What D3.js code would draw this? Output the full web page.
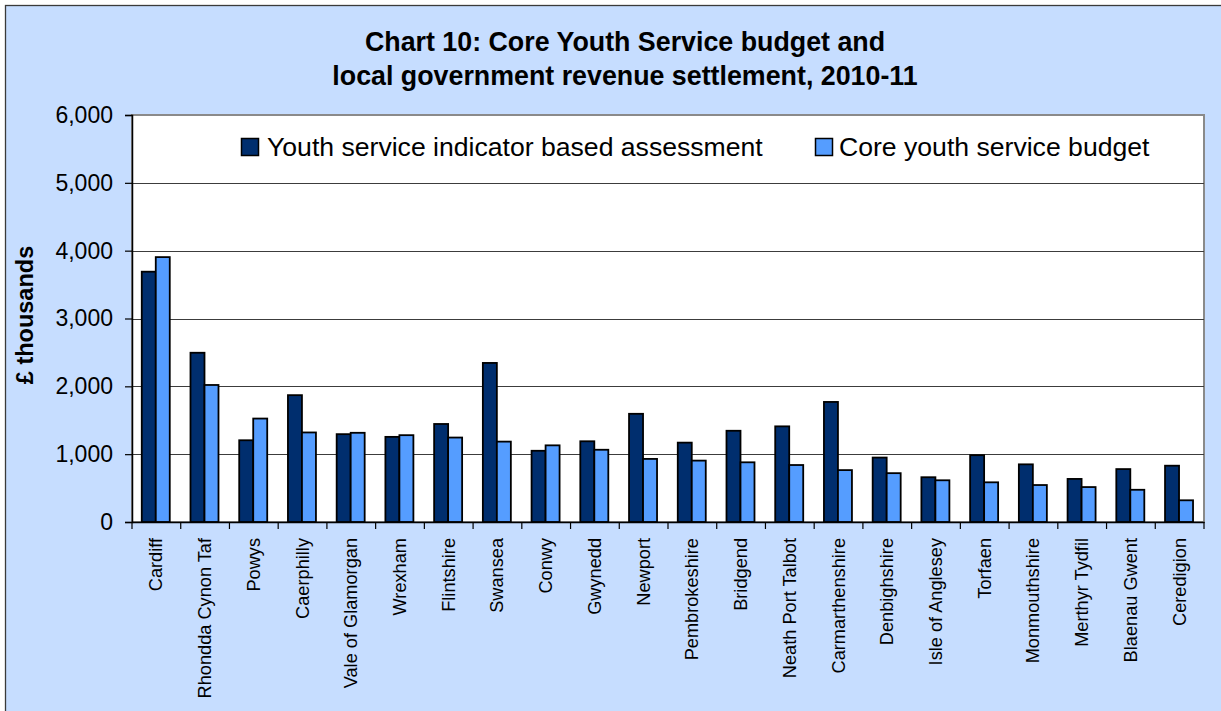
<!DOCTYPE html>
<html>
<head>
<meta charset="utf-8">
<script src="https://cdn.jsdelivr.net/npm/d3@7"></script>
<style>
  html, body { margin: 0; padding: 0; background: #ffffff; }
  svg { display: block; font-family: "Liberation Sans", Arial, sans-serif; }
</style>
</head>
<body>
<svg id="chart" width="1221" height="711"></svg>
<script>
// Local authorities, in chart order
const categories = [
  "Cardiff", "Rhondda Cynon Taf", "Powys", "Caerphilly", "Vale of Glamorgan",
  "Wrexham", "Flintshire", "Swansea", "Conwy", "Gwynedd", "Newport",
  "Pembrokeshire", "Bridgend", "Neath Port Talbot", "Carmarthenshire",
  "Denbighshire", "Isle of Anglesey", "Torfaen", "Monmouthshire",
  "Merthyr Tydfil", "Blaenau Gwent", "Ceredigion"
];

// £ thousands
const assessment = [3690, 2495, 1205, 1870, 1295, 1255, 1445, 2345, 1050, 1190, 1595,
                    1170, 1345, 1410, 1770, 950, 660, 985, 850, 635, 780, 830];
const budget = [3905, 2020, 1525, 1320, 1315, 1280, 1245, 1185, 1130, 1065, 930,
                905, 880, 840, 765, 720, 615, 585, 545, 515, 475, 320];

const seriesNames = ["Youth service indicator based assessment", "Core youth service budget"];
const yTicks = [0, 1000, 2000, 3000, 4000, 5000, 6000];
const titleLines = ["Chart 10: Core Youth Service budget and",
                    "local government revenue settlement, 2010-11"];
const yAxisTitle = "£ thousands";

const colors = ["#002E6E", "#559DFF"];
const bg = "#C6DDFF";

const svg = d3.select("#chart");

// chart background and frame
svg.append("rect").attr("x", 0).attr("y", 0).attr("width", 1221).attr("height", 711).attr("fill", "#ffffff");
svg.append("rect").attr("x", 5.5).attr("y", 5.5).attr("width", 1240).attr("height", 720)
  .attr("fill", bg).attr("stroke", "#3a3a3a").attr("stroke-width", 1.3);

const plot = { left: 132, right: 1204, top: 115, bottom: 522 };

const x0 = d3.scaleBand().domain(categories).range([plot.left, plot.right]).padding(0);
const barW = x0.bandwidth() * 0.2873;
const x1 = d3.scaleBand().domain([0, 1]).range([0, barW * 2]).padding(0);
const groupOffset = (x0.bandwidth() - barW * 2) / 2 - 0.6;

const y = d3.scaleLinear().domain([0, 6000]).range([plot.bottom, plot.top]);

// plot area
svg.append("rect").attr("x", plot.left).attr("y", plot.top)
  .attr("width", plot.right - plot.left).attr("height", plot.bottom - plot.top)
  .attr("fill", "#ffffff").attr("stroke", "#8a8a8a").attr("stroke-width", 2);

// gridlines
svg.append("g").selectAll("line").data(yTicks.filter(t => t > 0 && t < 6000)).join("line")
  .attr("x1", plot.left).attr("x2", plot.right)
  .attr("y1", d => Math.round(y(d)) + 0.5).attr("y2", d => Math.round(y(d)) + 0.5)
  .attr("stroke", "#3c3c3c").attr("stroke-width", 1.1);

// bars
const seriesData = [assessment, budget];
const groups = svg.append("g").selectAll("g").data(categories).join("g")
  .attr("transform", d => `translate(${x0(d) + groupOffset},0)`);
groups.selectAll("rect").data((d, i) => seriesData.map((s, k) => ({ k, v: s[i] }))).join("rect")
  .attr("x", d => x1(d.k))
  .attr("y", d => y(d.v))
  .attr("width", x1.bandwidth())
  .attr("height", d => y(0) - y(d.v))
  .attr("fill", d => colors[d.k])
  .attr("stroke", "#000000").attr("stroke-width", 1.8);

// y axis
const yAxis = d3.axisLeft(y).tickValues(yTicks).tickSize(7).tickPadding(12)
  .tickFormat(d3.format(","));
const gy = svg.append("g").attr("transform", `translate(${plot.left},0)`).call(yAxis);
gy.select(".domain").attr("stroke", "#000").attr("stroke-width", 1.5);
gy.selectAll(".tick line").attr("stroke", "#000").attr("stroke-width", 1.2);
gy.selectAll(".tick text").attr("font-size", 23).attr("fill", "#000")
  .attr("font-family", "Liberation Sans, Arial, sans-serif");

// x axis
const xAxis = d3.axisBottom(x0).tickSize(0).tickPadding(0);
const gx = svg.append("g").attr("transform", `translate(0,${plot.bottom})`).call(xAxis);
gx.select(".domain").attr("stroke", "#000").attr("stroke-width", 1.5);
gx.selectAll(".tick text")
  .attr("font-size", 18.2).attr("fill", "#000")
  .attr("font-family", "Liberation Sans, Arial, sans-serif")
  .attr("text-anchor", "end")
  .attr("dy", null)
  .attr("transform", "translate(6,16) rotate(-90)");
// category boundary ticks
svg.append("g").selectAll("line").data(d3.range(categories.length + 1)).join("line")
  .attr("x1", i => plot.left + i * x0.bandwidth()).attr("x2", i => plot.left + i * x0.bandwidth())
  .attr("y1", plot.bottom).attr("y2", plot.bottom + 7)
  .attr("stroke", "#000").attr("stroke-width", 1.2);

// title
svg.append("g").selectAll("text").data(titleLines).join("text")
  .attr("x", 625).attr("y", (d, i) => 51 + i * 34)
  .attr("text-anchor", "middle").attr("font-size", 26.8).attr("font-weight", "bold")
  .attr("fill", "#000").text(d => d);

// y axis title
svg.append("text")
  .attr("transform", "translate(33,315) rotate(-90)")
  .attr("text-anchor", "middle").attr("font-size", 23.5).attr("font-weight", "bold")
  .attr("fill", "#000").text(yAxisTitle);

// legend
const legendX = [241, 815];
const legend = svg.append("g").selectAll("g").data(seriesNames).join("g")
  .attr("transform", (d, i) => `translate(${legendX[i]},138)`);
legend.append("rect").attr("x", 0.5).attr("y", 0.5).attr("width", 17).attr("height", 17)
  .attr("fill", (d, i) => colors[i]).attr("stroke", "#000").attr("stroke-width", 1.5);
legend.append("text").attr("x", (d, i) => i === 0 ? 26 : 24).attr("y", 18).attr("font-size", 26.6)
  .attr("fill", "#000").text(d => d);
</script>
</body>
</html>
